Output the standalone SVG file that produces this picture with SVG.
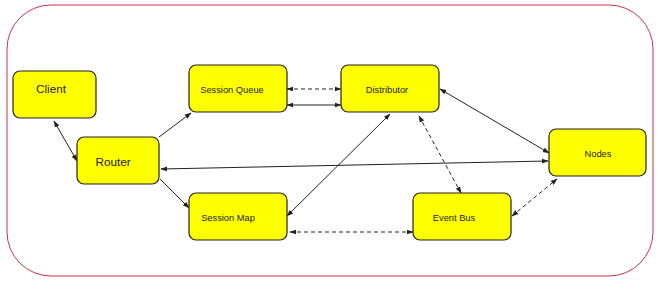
<svg xmlns="http://www.w3.org/2000/svg" width="659" height="282" viewBox="0 0 659 282">
<style>
.node rect{fill:#ffff00;stroke:#222;stroke-width:1.2}
.node text{font-family:"Liberation Sans",Arial,sans-serif;fill:#222;text-anchor:middle}
.s{font-size:9.3px}
.b{font-size:11.7px}
.c line{stroke:#222;stroke-width:1;marker-start:url(#a);marker-end:url(#a)}
.d{stroke-dasharray:4,3}
</style>
<defs>
<marker id="a" viewBox="0 0 10 10" refX="9" refY="5" markerWidth="7" markerHeight="7" markerUnits="userSpaceOnUse" orient="auto-start-reverse">
<path d="M0,1.5 L10,5 L0,8.5 z" fill="#222"/>
</marker>
</defs>
<rect x="7" y="5" width="646" height="271" rx="44" fill="#fff" stroke="#cc3344" stroke-width="1"/>
<g class="c">
<line x1="54" y1="121" x2="77" y2="161"/>
<line x1="159" y1="137" x2="191" y2="113" style="marker-start:none"/>
<line x1="160" y1="179" x2="189" y2="208" style="marker-start:none"/>
<line x1="161" y1="169" x2="548" y2="161"/>
<line class="d" x1="287" y1="89" x2="341" y2="89"/>
<line x1="287" y1="105" x2="341" y2="105"/>
<line x1="390" y1="114" x2="287" y2="216"/>
<line class="d" x1="419" y1="116" x2="461" y2="193"/>
<line x1="440" y1="89" x2="549" y2="153"/>
<line class="d" x1="290" y1="232" x2="413" y2="232"/>
<line class="d" x1="512" y1="216" x2="557" y2="179"/>
</g>
<g id="client" class="node"><rect x="13" y="71" width="83" height="47" rx="7"/><text class="b" x="51" y="93">Client</text></g>
<g id="router" class="node"><rect x="77" y="137" width="82" height="47" rx="7"/><text class="b" x="113" y="166">Router</text></g>
<g id="session-queue" class="node"><rect x="189" y="65" width="98" height="47" rx="7"/><text class="s" x="232" y="93">Session Queue</text></g>
<g id="distributor" class="node"><rect x="341" y="65" width="98" height="47" rx="7"/><text class="s" x="387" y="93">Distributor</text></g>
<g id="nodes" class="node"><rect x="549" y="129" width="97" height="47" rx="7"/><text class="s" x="598" y="157">Nodes</text></g>
<g id="session-map" class="node"><rect x="189" y="193" width="98" height="47" rx="7"/><text class="s" x="228" y="221">Session Map</text></g>
<g id="event-bus" class="node"><rect x="413" y="193" width="98" height="47" rx="7"/><text class="s" x="454" y="221">Event Bus</text></g>
</svg>
